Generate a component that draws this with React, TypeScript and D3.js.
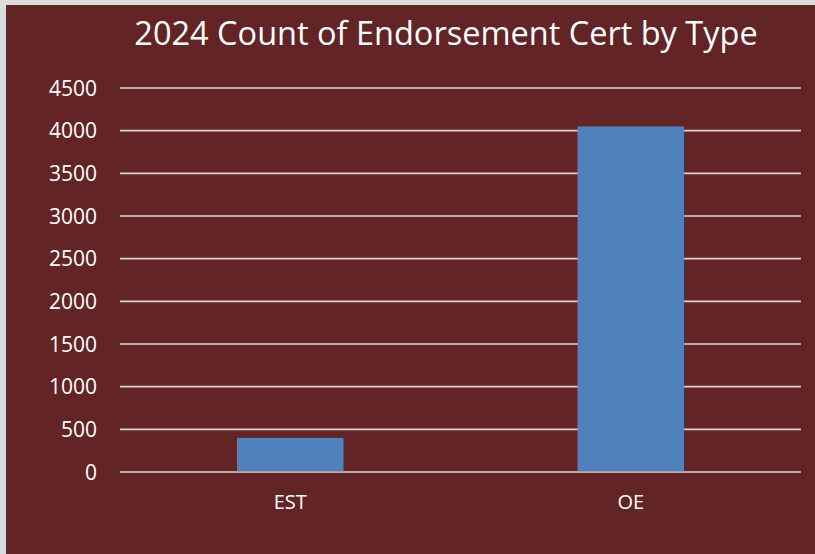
import React from 'react';
import * as d3 from 'd3';

// chart data
const title = '2024 Count of Endorsement Cert by Type';
const categories = ['EST', 'OE'];
const counts = [400, 4050];
const yTicks = [0, 500, 1000, 1500, 2000, 2500, 3000, 3500, 4000, 4500];

const W = 815;
const H = 554;
const margin = { top: 88, right: 14, bottom: 82, left: 120 };
const font = '"Open Sans", sans-serif';

export default function App() {
    const innerW = W - margin.left - margin.right;

    const x = d3
        .scaleBand<string>()
        .domain(categories)
        .range([margin.left, W - margin.right])
        .paddingInner(0.687)
        .paddingOuter(0.687 / 2);

    const y = d3
        .scaleLinear()
        .domain([0, 4500])
        .range([H - margin.bottom, margin.top]);

    return (
        <svg width={W} height={H} style={{ position: 'absolute', left: 0, top: 0 }}>
            <rect x={0} y={0} width={W} height={H} fill="#dcdcdc" />
            <rect x={6} y={5} width={W - 6} height={H - 5} fill="#632425" />

            <text
                x={446}
                y={45}
                textAnchor="middle"
                fill="#ffffff"
                fontFamily={font}
                fontSize={32.5}
            >
                {title}
            </text>

            {/* gridlines + y labels */}
            {yTicks.map((t) => (
                <g key={t}>
                    <line
                        x1={margin.left}
                        x2={margin.left + innerW}
                        y1={y(t)}
                        y2={y(t)}
                        stroke="#d8d4d4"
                        strokeWidth={1.6}
                    />
                    <text
                        x={97}
                        y={y(t)}
                        dy="0.36em"
                        textAnchor="end"
                        fill="#ffffff"
                        fontFamily={font}
                        fontSize={21}
                    >
                        {t}
                    </text>
                </g>
            ))}

            {/* bars */}
            {categories.map((c, i) => (
                <rect
                    key={c}
                    x={x(c)}
                    y={y(counts[i])}
                    width={x.bandwidth()}
                    height={y(0) - y(counts[i]) - 0.8}
                    fill="#4f81bd"
                />
            ))}

            {/* category labels */}
            {categories.map((c) => (
                <text
                    key={c}
                    x={(x(c) ?? 0) + x.bandwidth() / 2}
                    y={509}
                    textAnchor="middle"
                    fill="#ffffff"
                    fontFamily={font}
                    fontSize={20}
                >
                    {c}
                </text>
            ))}
        </svg>
    );
}
